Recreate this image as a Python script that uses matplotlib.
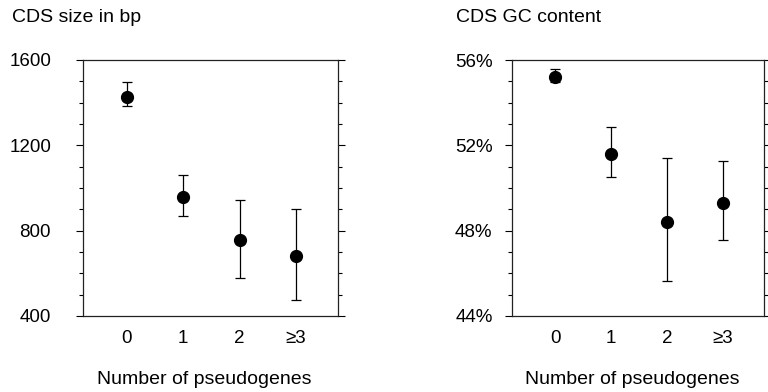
import matplotlib
matplotlib.use("Agg")
import matplotlib.pyplot as plt
import numpy as np
from matplotlib.ticker import MultipleLocator

plt.rcParams['font.family'] = ['Liberation Sans', 'DejaVu Sans']

# 数据
categories = ["0", "1", "2", "\u22653"]
size_mean = [1425, 956, 755, 680]
size_low = [1383, 867, 580, 474]
size_high = [1498, 1060, 942, 902]
gc_mean = [55.19, 51.61, 48.42, 49.28]
gc_low = [54.98, 50.50, 45.64, 47.58]
gc_high = [55.56, 52.84, 51.39, 51.27]


# 单个子图
def panel(ax, mean, low, high, ylim, major, minor, title, fmt, ypad, title_x):
    x = np.arange(len(categories))
    mean = np.array(mean)
    yerr = [mean - np.array(low), np.array(high) - mean]
    ax.errorbar(x, mean, yerr=yerr, fmt='o', color='k', markersize=8.5,
                elinewidth=0.9, capsize=3.5, capthick=0.9)
    ax.set_xlim(-0.77, 3.74)
    ax.set_ylim(*ylim)
    ax.set_xticks(x)
    ax.set_xticklabels(categories, fontsize=13.5)
    ax.tick_params(axis='x', length=0, pad=10)
    ax.yaxis.set_major_locator(MultipleLocator(major))
    ax.yaxis.set_minor_locator(MultipleLocator(minor))
    ax.yaxis.set_major_formatter(fmt)
    ax.tick_params(axis='y', which='both', direction='out', labelsize=13.5,
                   left=True, right=True, width=0.8, pad=ypad)
    ax.tick_params(axis='y', which='major', length=5)
    ax.tick_params(axis='y', which='minor', length=3)
    for s in ax.spines.values():
        s.set_linewidth(0.9)
        s.set_color('#222222')
    ax.set_xlabel("Number of pseudogenes", fontsize=14)
    ax.xaxis.set_label_coords(0.5 - 6 / 255, -0.213)
    ax.xaxis.label.set_va('top')
    ax.text(title_x, 1 + (60 - 17) / 256, title, transform=ax.transAxes,
            fontsize=14, va='center', ha='left')


fig = plt.figure(figsize=(7.68, 3.92), dpi=100)
ax1 = fig.add_axes([83 / 768, 1 - 316 / 392, 255 / 768, 256 / 392])
ax2 = fig.add_axes([512 / 768, 1 - 316 / 392, 252 / 768, 256 / 392])

panel(ax1, size_mean, size_low, size_high, (400, 1600), 400, 100,
      "CDS size in bp", "{x:.0f}", 18, -(83 - 12) / 255)
panel(ax2, gc_mean, gc_low, gc_high, (44, 56), 4, 1,
      "CDS GC content", "{x:.0f}%", 9, -(512 - 456) / 252)

fig.savefig("out.png", dpi=100)
